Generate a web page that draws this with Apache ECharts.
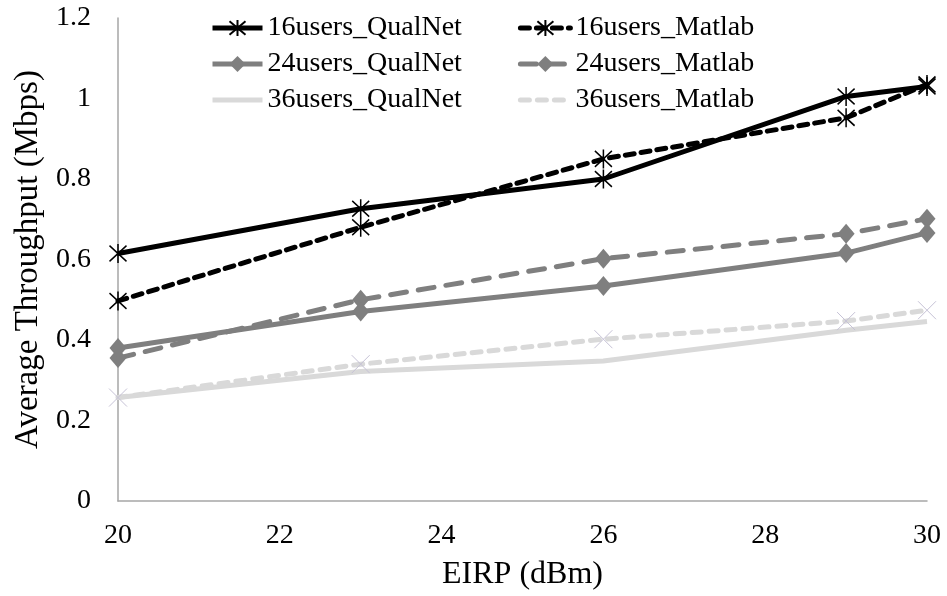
<!DOCTYPE html>
<html>
<head>
<meta charset="utf-8">
<script src="https://cdn.jsdelivr.net/npm/echarts@6/dist/echarts.min.js"></script>
<style>
  html, body { margin: 0; padding: 0; background: #fff; }
  #chart { width: 947px; height: 596px; }
</style>
</head>
<body>
<div id="chart"></div>
<script>
// EIRP settings (dBm)
const eirp = [20, 23, 26, 29, 30];

// Average throughput (Mbps) per user count, simulated vs. analytical
const qualnet16 = [0.615, 0.726, 0.800, 1.005, 1.030];
const matlab16  = [0.497, 0.680, 0.850, 0.952, 1.035];
const qualnet24 = [0.380, 0.471, 0.534, 0.616, 0.666];
const matlab24  = [0.355, 0.500, 0.602, 0.664, 0.701];
const qualnet36 = [0.257, 0.322, 0.348, 0.424, 0.446];
const matlab36  = [0.257, 0.340, 0.402, 0.447, 0.474];

const FONT = '"Liberation Serif", "Times New Roman", serif';
const ASTERISK = 'path://M0,0L10,10M10,0L0,10M5,-1L5,11';
const CROSS = 'path://M0,0L10,10M10,0L0,10';

const pairs = (ys) => eirp.map((x, i) => [x, ys[i]]);

const chart = echarts.init(document.getElementById('chart'), null, { renderer: 'canvas' });

function legendRow(top, names) {
  return {
    left: 205,
    top: top,
    orient: 'horizontal',
    itemWidth: 50,
    itemHeight: 20,
    itemGap: 56,
    selectedMode: false,
    lineStyle: { width: 5 },
    textStyle: { fontFamily: FONT, fontSize: 28, color: '#000' },
    data: names
  };
}

chart.setOption({
  animation: false,
  backgroundColor: '#fff',
  grid: { left: 118, right: 20, top: 18, bottom: 94 },
  legend: [
    legendRow(9, ['16users_QualNet', '16users_Matlab']),
    legendRow(45, ['24users_QualNet', '24users_Matlab']),
    legendRow(81, [
      { name: '36users_QualNet', itemStyle: { opacity: 0 } },
      { name: '36users_Matlab', itemStyle: { opacity: 0 } }
    ])
  ],
  xAxis: {
    type: 'value',
    min: 20, max: 30, interval: 2,
    name: 'EIRP (dBm)',
    nameLocation: 'middle',
    nameGap: 58,
    nameTextStyle: { fontFamily: FONT, fontSize: 32, color: '#000' },
    axisLine: { show: true, lineStyle: { color: '#a6a6a6', width: 1.5 } },
    axisTick: { show: false },
    splitLine: { show: false },
    axisLabel: { fontFamily: FONT, fontSize: 28, color: '#000', margin: 21 }
  },
  yAxis: {
    type: 'value',
    min: 0, max: 1.2, interval: 0.2,
    name: 'Average Throughput (Mbps)',
    nameLocation: 'middle',
    nameGap: 72,
    nameTextStyle: { fontFamily: FONT, fontSize: 33, color: '#000' },
    axisLine: { show: true, lineStyle: { color: '#a6a6a6', width: 1.5 } },
    axisTick: { show: false },
    splitLine: { show: false },
    axisLabel: { fontFamily: FONT, fontSize: 28, color: '#000', margin: 27 }
  },
  series: [
    {
      name: '36users_Matlab', type: 'line', data: pairs(matlab36), z: 2,
      symbol: CROSS, symbolSize: 18,
      itemStyle: { color: '#d9d9d9', borderColor: '#c6c2d6', borderWidth: 1 },
      lineStyle: { color: '#d9d9d9', width: 5, type: [9, 8], cap: 'round' }
    },
    {
      name: '36users_QualNet', type: 'line', data: pairs(qualnet36), z: 2,
      symbol: 'none',
      itemStyle: { color: '#d9d9d9' },
      lineStyle: { color: '#d9d9d9', width: 5 }
    },
    {
      name: '24users_Matlab', type: 'line', data: pairs(matlab24), z: 3,
      symbol: 'diamond', symbolSize: [17, 20],
      itemStyle: { color: '#7f7f7f', borderColor: '#7f7f7f', borderWidth: 0 },
      lineStyle: { color: '#7f7f7f', width: 5, type: [16, 12], cap: 'round' }
    },
    {
      name: '24users_QualNet', type: 'line', data: pairs(qualnet24), z: 3,
      symbol: 'diamond', symbolSize: [17, 20],
      itemStyle: { color: '#7f7f7f', borderColor: '#7f7f7f', borderWidth: 0 },
      lineStyle: { color: '#7f7f7f', width: 5 }
    },
    {
      name: '16users_Matlab', type: 'line', data: pairs(matlab16), z: 4,
      symbol: ASTERISK, symbolSize: [17, 19],
      itemStyle: { color: '#000', borderColor: '#000', borderWidth: 1.6 },
      lineStyle: { color: '#000', width: 5, type: [9, 7], cap: 'round' }
    },
    {
      name: '16users_QualNet', type: 'line', data: pairs(qualnet16), z: 4,
      symbol: ASTERISK, symbolSize: [17, 19],
      itemStyle: { color: '#000', borderColor: '#000', borderWidth: 1.6 },
      lineStyle: { color: '#000', width: 5 }
    }
  ]
});
</script>
</body>
</html>
